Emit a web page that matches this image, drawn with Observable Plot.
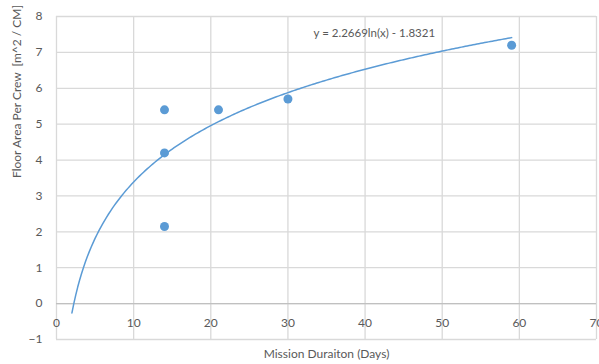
<!DOCTYPE html>
<html>
<head>
<meta charset="utf-8">
<script src="https://cdn.jsdelivr.net/npm/d3@7"></script>
<script src="https://cdn.jsdelivr.net/npm/@observablehq/plot@0.6"></script>
<style>
  html, body { margin: 0; padding: 0; background: #fff; }
  svg { display: block; }
</style>
</head>
<body>
<div id="chart"></div>
<script>
// Data
const missionDays = [14, 14, 14, 21, 30, 59];
const floorArea   = [5.4, 4.2, 2.15, 5.4, 5.7, 7.2];

// Logarithmic trendline as shown on the chart: y = a*ln(x) + b
const trendCoef = [2.2669, -1.8321];
const trendRange = [2, 59];
const trendLabel = ["y = 2.2669ln(x) - 1.8321"];
const trendLabelPos = [41.2, 7.52];

// Axis ticks
const xTicks = [0, 10, 20, 30, 40, 50, 60, 70];
const yTicks = [-1, 0, 1, 2, 3, 4, 5, 6, 7, 8];

const xTitle = "Mission Duraiton (Days)";
const yTitle = "Floor Area Per Crew  [m^2 / CM]";

const points = missionDays.map((d, i) => ({x: d, y: floorArea[i]}));
const trend = d3.range(trendRange[0], trendRange[1] + 0.001, 0.25)
  .map(x => ({x, y: trendCoef[0] * Math.log(x) + trendCoef[1]}));

const blue = "#5B9BD5";
const grid = "#d9d9d9";
const txt = "#595959";

const chart = Plot.plot({
  width: 599,
  height: 364,
  marginLeft: 56,
  marginRight: 3,
  marginTop: 16,
  marginBottom: 25,
  style: {fontFamily: "Lato, 'Open Sans', sans-serif", fontSize: "12px", color: txt, background: "#fff"},
  x: {domain: [0, 70], ticks: xTicks, axis: null},
  y: {domain: [-1, 8], ticks: yTicks, axis: null},
  marks: [
    Plot.ruleX(xTicks, {stroke: grid, strokeWidth: 1.3}),
    Plot.ruleY(yTicks, {stroke: grid, strokeWidth: 1.3}),
    Plot.ruleY([0], {stroke: "#c0c0c0", strokeWidth: 1.3}),
    Plot.axisY({ticks: yTicks, tickSize: 0, tickPadding: 14, label: null, fill: txt, fontSize: 12}),
    Plot.text(xTicks, {x: d => d, y: () => 0, dy: 20, text: d => String(d), fill: txt, fontSize: 12}),
    Plot.line(trend, {x: "x", y: "y", stroke: blue, strokeWidth: 1.5}),
    Plot.dot(points, {x: "x", y: "y", r: 4.5, fill: blue, stroke: "none"}),
    Plot.text(trendLabel, {x: () => trendLabelPos[0], y: () => trendLabelPos[1], text: d => d, fill: txt, fontSize: 11.5}),
    Plot.text([xTitle], {frameAnchor: "bottom", dy: 18, text: d => d, fill: txt, fontSize: 12}),
    Plot.text([yTitle], {frameAnchor: "left", dx: -39, rotate: -90, text: d => d, fill: txt, fontSize: 12})
  ]
});
document.getElementById("chart").appendChild(chart);
</script>
</body>
</html>
